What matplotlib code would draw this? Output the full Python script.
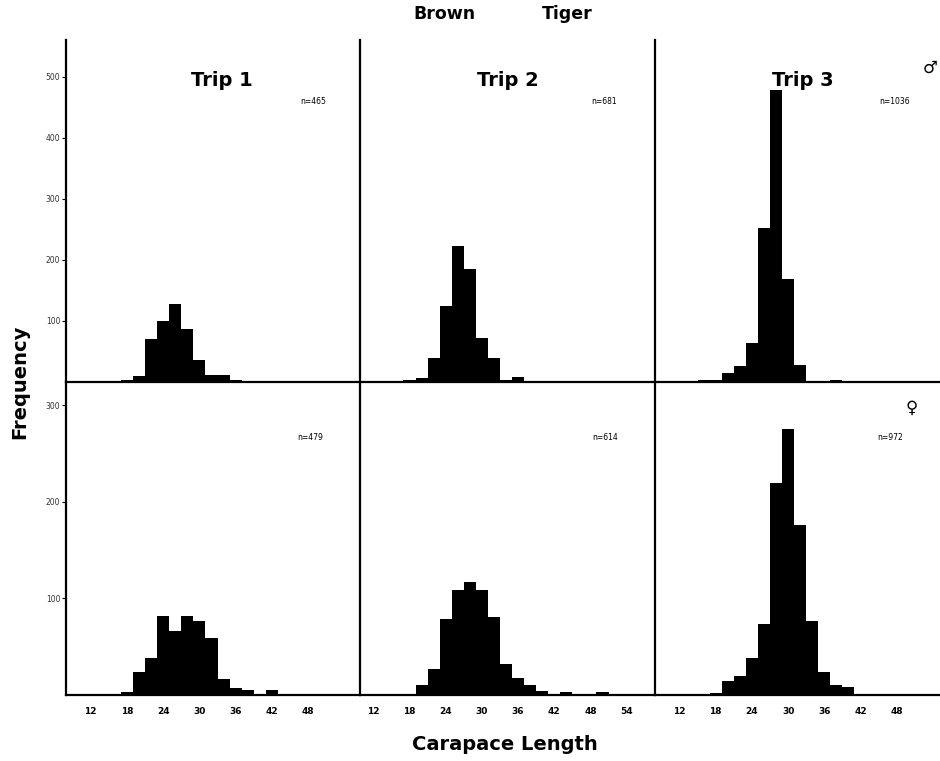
import numpy as np
import matplotlib.pyplot as plt

# carapace length classes (lower edge, mm), 2 mm wide
lower_edges = [13, 15, 17, 19, 21, 23, 25, 27, 29, 31, 33, 35, 37, 39, 41, 43, 45, 47, 49, 51, 53]

# males (top row)
male_trip1 = [1, 1, 4, 10, 71, 100, 128, 87, 36, 11, 11, 4, 0, 0, 0, 0, 0, 0, 0, 0, 0]
male_trip2 = [0, 0, 3, 7, 40, 124, 223, 185, 72, 40, 3, 8, 1, 1, 1, 0, 1, 0, 0, 0, 0]
male_trip3 = [0, 3, 3, 14, 26, 64, 252, 478, 169, 28, 1, 1, 3, 1, 1, 1, 1, 0, 0, 0, 0]

# females (bottom row)
female_trip1 = [1, 0, 3, 24, 38, 82, 66, 82, 77, 59, 17, 7, 5, 0, 5, 1, 0, 0, 0, 0, 0]
female_trip2 = [0, 1, 1, 10, 27, 79, 109, 117, 109, 81, 32, 18, 10, 4, 1, 3, 1, 1, 3, 0, 0]
female_trip3 = [0, 1, 2, 15, 20, 38, 73, 219, 275, 176, 77, 24, 10, 8, 1, 0, 0, 0, 0, 0, 0]

trips = ['Trip 1', 'Trip 2', 'Trip 3']
male_n = ['n=465', 'n=681', 'n=1036']
female_n = ['n=479', 'n=614', 'n=972']
x_ticks = [[12, 18, 24, 30, 36, 42, 48],
           [12, 18, 24, 30, 36, 42, 48, 54],
           [12, 18, 24, 30, 36, 42, 48]]
x_limits = [(7.9, 56.6), (9.8, 58.7), (7.95, 55.5)]
male_yticks = [100, 200, 300, 400, 500]
female_yticks = [100, 200, 300]

W, H = 940, 761
fig = plt.figure(figsize=(W / 100, H / 100), dpi=100)
plt.rcParams['font.family'] = ['DejaVu Sans']

# panel boxes in pixels
cols = [(66, 360), (360, 655), (655, 942)]
rows = [(40, 382), (382, 695)]


def px_axes(x0, x1, y0, y1):
    return fig.add_axes([x0 / W, 1 - y1 / H, (x1 - x0) / W, (y1 - y0) / H])


males = [male_trip1, male_trip2, male_trip3]
females = [female_trip1, female_trip2, female_trip3]

for i in range(3):
    for j, (data, ylim) in enumerate([(males[i], 560), (females[i], 324)]):
        ax = px_axes(cols[i][0], cols[i][1], rows[j][0], rows[j][1])
        ax.bar(lower_edges, data, width=2, align='edge', color='black', linewidth=0)
        ax.set_xlim(*x_limits[i])
        ax.set_ylim(0, ylim)
        ax.patch.set_alpha(0)
        for s in ['top', 'right']:
            ax.spines[s].set_visible(False)
        for s in ['left', 'bottom']:
            ax.spines[s].set_linewidth(1.6)
        if j == 1:
            ax.set_xticks(x_ticks[i])
            ax.tick_params(axis='x', length=0, pad=9, labelsize=6.5)
            for lab in ax.get_xticklabels():
                lab.set_fontweight('bold')
        else:
            ax.set_xticks([])
        if i == 0:
            ax.set_yticks(male_yticks if j == 0 else female_yticks)
            ax.tick_params(axis='y', length=3, width=0.8, pad=1, labelsize=5.5, labelcolor='#333333')
        else:
            ax.set_yticks([])


def ftext(x, y, s, **kw):
    fig.text(x / W, 1 - y / H, s, ha='center', va='center', **kw)


ftext(444, 14, 'Brown', fontsize=12.5, fontweight='bold')
ftext(567, 14, 'Tiger', fontsize=12.5, fontweight='bold')
ftext(20, 382, 'Frequency', fontsize=14, fontweight='bold', rotation=90)
ftext(505, 744, 'Carapace Length', fontsize=14, fontweight='bold')

trip_x = [222, 508, 803]
for k in range(3):
    ftext(trip_x[k], 80, trips[k], fontsize=14, fontweight='bold')

ftext(313, 101, male_n[0], fontsize=5.5)
ftext(604, 102, male_n[1], fontsize=5.5)
ftext(895, 102, male_n[2], fontsize=5.5)
ftext(310, 437, female_n[0], fontsize=5.5)
ftext(605, 437, female_n[1], fontsize=5.5)
ftext(890, 438, female_n[2], fontsize=5.5)

ftext(930, 68, '\u2642', fontsize=12)
ftext(912, 408, '\u2640', fontsize=12)

fig.savefig('out.png', dpi=100)
